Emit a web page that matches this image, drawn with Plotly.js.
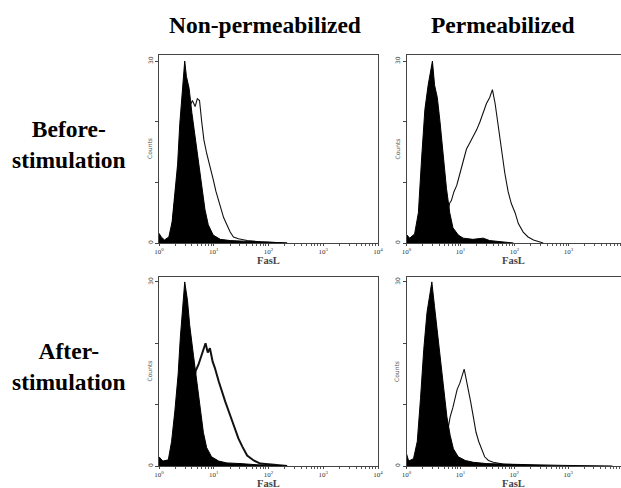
<!DOCTYPE html>
<html>
<head>
<meta charset="utf-8">
<script src="https://cdn.plot.ly/plotly-3.0.1.min.js"></script>
<style>html,body{margin:0;padding:0;background:#fff;}#chart{width:621px;height:488px;}</style>
</head>
<body>
<div id="chart"></div>
<script>
// Column / row labels
const columnTitles = ["Non-permeabilized", "Permeabilized"];
const rowTitles = ["Before-<br>stimulation", "After-<br>stimulation"];
const xAxisTitle = "FasL";
const yAxisTitle = "Counts";
const xTickVals = [1, 10, 100, 1000, 10000];
const xTickText = ["10<sup>0</sup>", "10<sup>1</sup>", "10<sup>2</sup>", "10<sup>3</sup>", "10<sup>4</sup>"];
const yTickVals = [0, 10, 20, 30];
const yTickText = ["0", " ", " ", "30"];

// Histogram data: log10(FasL) positions and counts
// Panel 1: non-permeabilized, before stimulation
const p1ControlLog = [0.00,0.04,0.10,0.18,0.24,0.29,0.34,0.38,0.42,0.44,0.47,0.50,0.55,0.60,0.66,0.72,0.78,0.84,0.90,0.99,1.12,1.30,1.55,1.79,2.22,2.34];
const p1ControlCnt = [1.6,1.0,0.5,1.0,3.5,8,13,19.7,24.5,27,30,27.5,25.5,21.5,17.5,13.5,9,5.5,3,1.3,0.6,0.4,0.3,0.2,0.1,0];
const p1FasLLog = [0.24,0.32,0.41,0.50,0.56,0.61,0.66,0.70,0.74,0.78,0.82,0.87,0.93,0.99,1.04,1.09,1.13,1.18,1.24,1.30,1.36,1.45,1.61,1.85,2.34];
const p1FasLCnt = [3,10,17,20,22.5,23.5,22.5,23.8,23.5,20,17,14.8,12.8,10.5,8.5,6.8,5.5,4.2,3,1.8,1.0,0.7,0.4,0.2,0];

// Panel 2: permeabilized, before stimulation
const p2ControlLog = [0.00,0.06,0.15,0.22,0.28,0.34,0.40,0.44,0.48,0.52,0.57,0.62,0.68,0.74,0.80,0.86,0.96,1.05,1.23,1.42,1.54,1.73,1.98];
const p2ControlCnt = [1.4,0.8,1.5,5,14,22,26,28,30,26,24,20,14,9,5,2.5,1.3,0.8,0.6,0.8,0.4,0.2,0];
const p2FasLLog = [0.68,0.74,0.80,0.83,0.88,0.93,0.99,1.05,1.11,1.17,1.23,1.30,1.36,1.42,1.48,1.54,1.59,1.64,1.70,1.76,1.82,1.88,1.94,2.01,2.07,2.16,2.25,2.35,2.44,2.53];
const p2FasLCnt = [2,4,6.6,7,8.5,9.5,11.5,13.5,15.5,16.5,17.5,18.7,20,21.5,23,24,25.3,23,19,15,11.5,8.5,6.5,5,3.2,1.8,1.0,0.5,0.2,0];

// Panel 3: non-permeabilized, after stimulation
const p3ControlLog = [0.00,0.07,0.17,0.23,0.29,0.35,0.39,0.43,0.47,0.52,0.56,0.63,0.69,0.75,0.81,0.87,0.96,1.09,1.24,1.48,1.79,2.34];
const p3ControlCnt = [1.5,0.8,1,4,9,15,21,26,30,27,23,18,13.5,9,5.5,3,1.5,0.8,0.5,0.4,0.2,0];
const p3FasLLog = [0.56,0.63,0.67,0.72,0.76,0.81,0.85,0.89,0.93,0.98,1.02,1.09,1.15,1.21,1.27,1.33,1.39,1.45,1.52,1.61,1.73,1.85,2.10,2.34];
const p3FasLCnt = [10,13.5,15.5,16.5,17.5,19,20,18.5,19.2,17,16,13.8,12,10.5,9,7.5,6,4.5,3.2,1.7,0.9,0.4,0.2,0];

// Panel 4: permeabilized, after stimulation
const p4ControlLog = [0.00,0.04,0.13,0.20,0.26,0.32,0.38,0.43,0.47,0.52,0.56,0.63,0.69,0.75,0.81,0.87,0.96,1.09,1.24,1.48,1.85,2.28,2.90,3.82];
const p4ControlCnt = [2,0.8,1.2,4,11,19,25,28,30,26,23,18,12.5,8,5,2.8,1.5,0.9,0.6,0.4,0.3,0.2,0.1,0];
const p4FasLLog = [0.75,0.81,0.86,0.90,0.94,0.99,1.04,1.07,1.10,1.15,1.19,1.24,1.29,1.34,1.39,1.45,1.52,1.61,1.79,2.10,2.47];
const p4FasLCnt = [5,8,9.5,11.2,12.5,13.5,14.8,15.8,14.5,12.5,10.5,8,5.5,4,2.8,1.5,0.9,0.6,0.3,0.2,0];

const toLin = a => a.map(v => Math.pow(10, v));

const panels = [
  {c:[p1ControlLog,p1ControlCnt], f:[p1FasLLog,p1FasLCnt], w:1.1},
  {c:[p2ControlLog,p2ControlCnt], f:[p2FasLLog,p2FasLCnt], w:1.1},
  {c:[p3ControlLog,p3ControlCnt], f:[p3FasLLog,p3FasLCnt], w:2.0},
  {c:[p4ControlLog,p4ControlCnt], f:[p4FasLLog,p4FasLCnt], w:1.1}
];

const traces = [];
const annotations = [];
panels.forEach((p, i) => {
  const xa = i === 0 ? 'x' : 'x' + (i + 1);
  const ya = i === 0 ? 'y' : 'y' + (i + 1);
  traces.push({x: toLin(p.f[0]), y: p.f[1], xaxis: xa, yaxis: ya, type: 'scatter', mode: 'lines',
    line: {color: '#111', width: p.w}, hoverinfo: 'skip', showlegend: false});
  traces.push({x: toLin(p.c[0]), y: p.c[1], xaxis: xa, yaxis: ya, type: 'scatter', mode: 'lines',
    fill: 'tozeroy', fillcolor: '#000', line: {color: '#000', width: 1}, hoverinfo: 'skip', showlegend: false});
  annotations.push({text: '<b>' + xAxisTitle + '</b>', xref: xa + ' domain', yref: ya + ' domain', x: 0.5, y: 0,
    yshift: -17.5, xanchor: 'center', yanchor: 'middle', showarrow: false,
    font: {family: 'Liberation Serif', size: 10.5, color: '#444'}});
  annotations.push({text: yAxisTitle, xref: xa + ' domain', yref: ya + ' domain', x: 0, y: 0.5,
    xshift: -10, textangle: -90, xanchor: 'center', yanchor: 'middle', showarrow: false,
    font: {family: 'DejaVu Sans', size: 6, color: '#555'}});
});

const minorVals = [];
for (let k = 0; k < 4; k++) for (let d = 2; d <= 9; d++) minorVals.push(d * Math.pow(10, k));

function xAxis(domain, range, anchor) {
  return {type: 'log', domain: domain, range: range, anchor: anchor,
    showline: true, linecolor: '#444', linewidth: 1, mirror: true,
    showgrid: false, zeroline: false,
    tickmode: 'array', tickvals: xTickVals, ticktext: xTickText,
    ticks: 'outside', ticklen: 2, tickwidth: 1, tickcolor: '#444',
    minor: {tickmode: 'array', tickvals: minorVals, ticks: 'outside', ticklen: 2, tickwidth: 1, tickcolor: '#555'},
    tickfont: {family: 'Liberation Serif', size: 7, color: '#333'},
    fixedrange: true};
}
function yAxis(domain, range, anchor, mirror) {
  return {domain: domain, range: range, anchor: anchor,
    showline: true, linecolor: '#444', linewidth: 1, mirror: mirror,
    showgrid: false, zeroline: false,
    tickmode: 'array', tickvals: yTickVals, ticktext: yTickText,
    ticks: 'outside', ticklen: 3, tickwidth: 1, tickcolor: '#444', tickangle: -90,
    tickfont: {family: 'DejaVu Sans', size: 6, color: '#333'},
    fixedrange: true};
}

const dxL = [159/621, 378/621];
const dxR = [406.5/621, 1];
const dyT = [1 - 243/488, 1 - 55/488];
const dyB = [1 - 466/488, 1 - 277/488];

const titleFont = {family: 'Liberation Serif', size: 23.5, color: '#000'};
annotations.push(
  {text: '<b>' + columnTitles[0] + '</b>', x: 264.5/621, y: 1 - 25/488, xref: 'paper', yref: 'paper', showarrow: false, font: titleFont, xanchor: 'center', yanchor: 'middle'},
  {text: '<b>' + columnTitles[1] + '</b>', x: 503/621, y: 1 - 25/488, xref: 'paper', yref: 'paper', showarrow: false, font: titleFont, xanchor: 'center', yanchor: 'middle'},
  {text: '<b>' + rowTitles[0] + '</b>', x: 69/621, y: 1 - 144/488, xref: 'paper', yref: 'paper', showarrow: false, font: titleFont, xanchor: 'center', yanchor: 'middle', align: 'center'},
  {text: '<b>' + rowTitles[1] + '</b>', x: 69/621, y: 1 - 366/488, xref: 'paper', yref: 'paper', showarrow: false, font: titleFont, xanchor: 'center', yanchor: 'middle', align: 'center'}
);

const layout = {
  width: 621, height: 488,
  margin: {l: 0, r: 0, t: 0, b: 0},
  paper_bgcolor: '#fff', plot_bgcolor: '#fff',
  showlegend: false,
  xaxis: xAxis(dxL, [0, 4], 'y'),
  yaxis: yAxis(dyT, [0, 31], 'x', true),
  xaxis2: xAxis(dxR, [0, 3.97], 'y2'),
  yaxis2: yAxis(dyT, [0, 31], 'x2', false),
  xaxis3: xAxis(dxL, [0, 4], 'y3'),
  yaxis3: yAxis(dyB, [0, 30.8], 'x3', true),
  xaxis4: xAxis(dxR, [0, 3.98], 'y4'),
  yaxis4: yAxis(dyB, [0, 30.8], 'x4', false),
  annotations: annotations
};

Plotly.newPlot('chart', traces, layout, {displayModeBar: false, staticPlot: true});
</script>
</body>
</html>
